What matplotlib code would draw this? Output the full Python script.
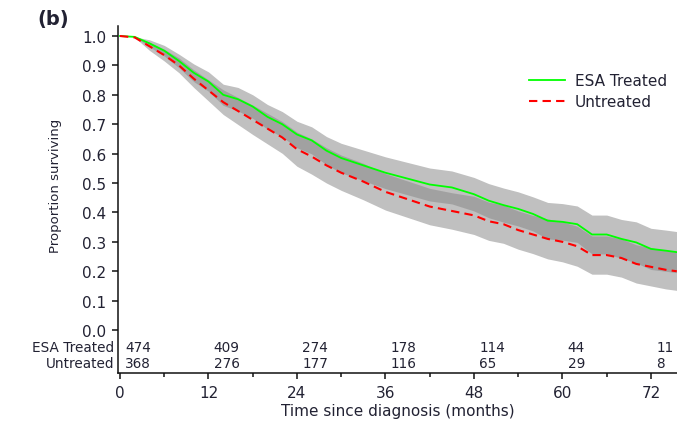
import matplotlib
matplotlib.use('Agg')
import matplotlib.pyplot as plt
import numpy as np

# ---- data ----
months = [0, 2, 4, 6, 8, 10, 12, 14, 16, 18, 20, 22, 24, 26, 28, 30, 33, 36, 39, 42,
          45, 48, 50, 52, 54, 56, 58, 60, 62, 64, 66, 68, 70, 72, 74, 75.5]

esa_surv = [1.0, 0.997, 0.975, 0.95, 0.915, 0.875, 0.845, 0.80, 0.785, 0.76, 0.725, 0.70,
            0.665, 0.645, 0.61, 0.585, 0.56, 0.535, 0.515, 0.495, 0.485, 0.462, 0.44, 0.425,
            0.412, 0.395, 0.372, 0.368, 0.36, 0.325, 0.325, 0.31, 0.298, 0.276, 0.27, 0.265]
esa_hi = [1.0, 0.997, 0.987, 0.968, 0.938, 0.905, 0.878, 0.836, 0.825, 0.80, 0.767, 0.743,
          0.71, 0.691, 0.658, 0.635, 0.612, 0.589, 0.57, 0.551, 0.541, 0.519, 0.498, 0.483,
          0.47, 0.453, 0.434, 0.43, 0.422, 0.391, 0.391, 0.376, 0.368, 0.346, 0.34, 0.335]
esa_lo = [1.0, 0.997, 0.963, 0.932, 0.892, 0.845, 0.812, 0.764, 0.745, 0.72, 0.683, 0.657,
          0.62, 0.599, 0.562, 0.535, 0.508, 0.481, 0.46, 0.439, 0.429, 0.405, 0.382, 0.367,
          0.354, 0.337, 0.31, 0.306, 0.298, 0.259, 0.259, 0.244, 0.228, 0.206, 0.20, 0.195]

unt_surv = [1.0, 0.995, 0.965, 0.935, 0.9, 0.855, 0.815, 0.775, 0.745, 0.715, 0.685, 0.655,
            0.615, 0.59, 0.56, 0.535, 0.505, 0.47, 0.445, 0.42, 0.405, 0.39, 0.37, 0.36,
            0.34, 0.325, 0.31, 0.30, 0.285, 0.255, 0.255, 0.245, 0.225, 0.215, 0.205, 0.20]
unt_hi = [1.0, 0.995, 0.979, 0.955, 0.925, 0.885, 0.851, 0.817, 0.791, 0.765, 0.737, 0.709,
          0.673, 0.65, 0.62, 0.595, 0.567, 0.532, 0.507, 0.482, 0.467, 0.455, 0.435, 0.425,
          0.405, 0.39, 0.378, 0.368, 0.353, 0.32, 0.32, 0.31, 0.29, 0.28, 0.27, 0.265]
unt_lo = [1.0, 0.995, 0.951, 0.915, 0.875, 0.825, 0.779, 0.733, 0.699, 0.665, 0.633, 0.601,
          0.557, 0.53, 0.50, 0.475, 0.443, 0.408, 0.383, 0.358, 0.343, 0.325, 0.305, 0.295,
          0.275, 0.26, 0.242, 0.232, 0.217, 0.19, 0.19, 0.18, 0.16, 0.15, 0.14, 0.135]

risk_times = [0, 12, 24, 36, 48, 60, 72]
esa_risk = [474, 409, 274, 178, 114, 44, 11]
unt_risk = [368, 276, 177, 116, 65, 29, 8]
group_labels = ['ESA Treated', 'Untreated']

yticks = [0.0, 0.1, 0.2, 0.3, 0.4, 0.5, 0.6, 0.7, 0.8, 0.9, 1.0]
xticks = [0, 12, 24, 36, 48, 60, 72]
xminor = [6, 18, 30, 42, 54, 66]

# ---- figure ----
W, H = 677, 427
txt = '#222233'
plt.rcParams['font.family'] = ['DejaVu Sans']
fig = plt.figure(figsize=(W / 100, H / 100), dpi=100)
ax = fig.add_axes([118 / W, 1 - 374 / H, 1 - 118 / W, 347 / H])

band = (134 / 255, 134 / 255, 134 / 255)
ax.fill_between(months, esa_lo, esa_hi, color=band, alpha=0.52, lw=0)
ax.fill_between(months, unt_lo, unt_hi, color=band, alpha=0.52, lw=0)
ax.plot(months, esa_surv, color='#00ff00', lw=1.3, label=group_labels[0])
ax.plot(months, unt_surv, color='#ff0000', lw=1.5, ls=(0, (4, 2.5)), label=group_labels[1])

ax.set_xlim(-0.27, 75.53)
ax.set_ylim(-0.146, 1.034)

for s in ['top', 'right']:
    ax.spines[s].set_visible(False)
for s in ['left', 'bottom']:
    ax.spines[s].set_linewidth(1.1)
    ax.spines[s].set_color('#111111')

ax.set_yticks(yticks)
ax.set_yticklabels(['%.1f' % v for v in yticks])
ax.set_xticks(xticks)
ax.set_xticks(xminor, minor=True)
ax.tick_params(axis='both', which='major', length=4.5, width=1.1, color='#111111',
               labelsize=11, labelcolor=txt)
ax.tick_params(axis='y', pad=4)
ax.tick_params(axis='x', pad=4)
ax.tick_params(axis='x', which='minor', length=3, width=1.1, color='#111111')

# at-risk table (rows in pixel offsets below y=0)
y0_px = 331
row_px = [348, 364]
row_y = [(y0_px - p) / 294 for p in row_px]
fs_risk = 9.8
for t, n1, n2 in zip(risk_times, esa_risk, unt_risk):
    ax.text(t + 0.72, row_y[0], str(n1), ha='left', va='center', fontsize=fs_risk, color=txt)
    ax.text(t + 0.72, row_y[1], str(n2), ha='left', va='center', fontsize=fs_risk, color=txt)
for lab, yy in zip(group_labels, row_y):
    ax.text(-0.8, yy, lab, ha='right', va='center', fontsize=fs_risk, color=txt, clip_on=False)

ax.set_ylabel('Proportion surviving', fontsize=9.5, color=txt)
ax.yaxis.set_label_coords((62 - 118) / 559, (0.5 + 0.146) / 1.18 - 0.005)
ax.set_xlabel('Time since diagnosis (months)', fontsize=11, color=txt)
ax.xaxis.set_label_coords((398 - 118) / 559, (374 - 404) / 347)

fig.text(37 / W, 1 - 19 / H, '(b)', ha='left', va='center', fontsize=14,
         fontweight='bold', color=txt)

ax.legend(loc='upper left', bbox_to_anchor=(529 / W, 1 - 74 / H),
          bbox_transform=fig.transFigure, frameon=False, fontsize=11,
          handlelength=2.35, handletextpad=0.65, labelspacing=0.4,
          borderpad=0, borderaxespad=0, labelcolor=txt)

fig.savefig('out.png', dpi=100)
